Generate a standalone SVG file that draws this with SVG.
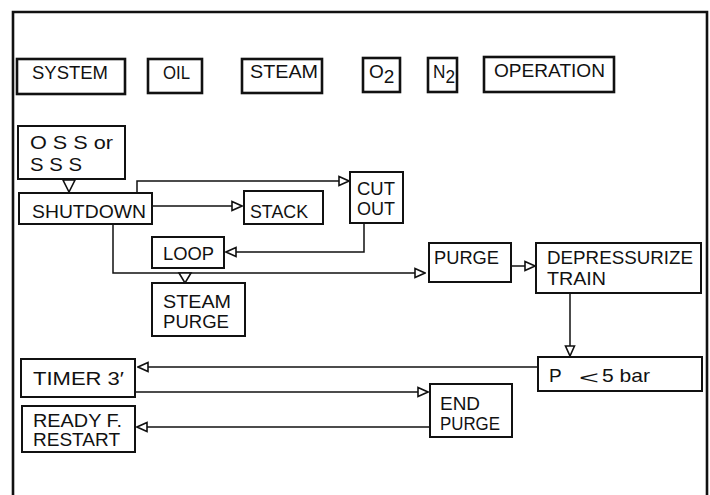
<svg xmlns="http://www.w3.org/2000/svg" width="710" height="495" viewBox="0 0 710 495">
<style>
.box{fill:#fff;stroke:#111;stroke-width:2}
.hbox{fill:#fff;stroke:#111;stroke-width:2.6}
.t{font-family:"Liberation Sans",Arial,sans-serif;font-size:19px;fill:#111}
.c{fill:none;stroke:#111;stroke-width:1.5}
.tri{fill:#fff;stroke:#111;stroke-width:1.6;stroke-linejoin:miter}
</style>
<defs>
<marker id="ah" viewBox="0 0 12 12" refX="11" refY="6" markerWidth="12" markerHeight="12" markerUnits="userSpaceOnUse" orient="auto">
<path d="M1,1.5 L11,6 L1,10.5 Z" fill="#fff" stroke="#111" stroke-width="1.6"/>
</marker>
</defs>
<rect width="710" height="495" fill="#fff"/>
<path d="M13,495 V12 H707 V495" fill="none" stroke="#111" stroke-width="2.6"/>

<g id="hdr-system"><rect class="hbox" x="17" y="59" width="108" height="35"/><text class="t" x="32" y="79" textLength="76" lengthAdjust="spacingAndGlyphs">SYSTEM</text></g>
<g id="hdr-oil"><rect class="hbox" x="148" y="59" width="54" height="34"/><text class="t" x="163" y="79" textLength="27" lengthAdjust="spacingAndGlyphs">OIL</text></g>
<g id="hdr-steam"><rect class="hbox" x="242" y="59" width="80" height="34"/><text class="t" x="250" y="78" textLength="68" lengthAdjust="spacingAndGlyphs">STEAM</text></g>
<g id="hdr-o2"><rect class="hbox" x="363" y="58" width="37" height="34"/><text class="t" x="369" y="78">O<tspan dy="5">2</tspan></text></g>
<g id="hdr-n2"><rect class="hbox" x="428" y="58" width="29" height="34"/><text class="t" x="433" y="78" textLength="22" lengthAdjust="spacingAndGlyphs">N<tspan dy="5">2</tspan></text></g>
<g id="hdr-operation"><rect class="hbox" x="484" y="57" width="130" height="35"/><text class="t" x="494" y="77" textLength="111" lengthAdjust="spacingAndGlyphs">OPERATION</text></g>

<g id="connectors">
<polygon class="tri" points="63,180 75,180 69,192"/>
<path class="c" d="M137,193 V181 H349" marker-end="url(#ah)"/>
<path class="c" d="M152,206 H242" marker-end="url(#ah)"/>
<path class="c" d="M364,223 V252 H226" marker-end="url(#ah)"/>
<path class="c" d="M113,224 V273 H425" marker-end="url(#ah)"/>
<polygon class="tri" points="179,273 191,273 185,283"/>
<path class="c" d="M511,266 H535" marker-end="url(#ah)"/>
<path class="c" d="M570,293 V356" marker-end="url(#ah)"/>
<path class="c" d="M538,367 H138" marker-end="url(#ah)"/>
<path class="c" d="M135,392 H428" marker-end="url(#ah)"/>
<path class="c" d="M430,427 H137" marker-end="url(#ah)"/>
</g>

<g id="oss"><rect class="box" x="18" y="126" width="107" height="53"/><text class="t" x="30" y="149" font-size="20" textLength="83" lengthAdjust="spacingAndGlyphs">O S S or</text><text class="t" x="30" y="171" font-size="20" textLength="52" lengthAdjust="spacingAndGlyphs">S S S</text></g>
<g id="shutdown"><rect class="box" x="19" y="193" width="133" height="31"/><text class="t" x="32" y="218" font-size="20" textLength="114" lengthAdjust="spacingAndGlyphs">SHUTDOWN</text></g>
<g id="stack"><rect class="box" x="244" y="191" width="79" height="33"/><text class="t" x="250" y="218" font-size="20" textLength="58" lengthAdjust="spacingAndGlyphs">STACK</text></g>
<g id="cutout"><rect class="box" x="350" y="172" width="53" height="51"/><text class="t" x="357" y="195" textLength="38" lengthAdjust="spacingAndGlyphs">CUT</text><text class="t" x="357" y="215" textLength="38" lengthAdjust="spacingAndGlyphs">OUT</text></g>
<g id="loop"><rect class="box" x="152" y="237" width="72" height="31"/><text class="t" x="163" y="260" textLength="51" lengthAdjust="spacingAndGlyphs">LOOP</text></g>
<g id="steampurge"><rect class="box" x="152" y="283" width="93" height="53"/><text class="t" x="163" y="308" textLength="68" lengthAdjust="spacingAndGlyphs">STEAM</text><text class="t" x="163" y="328" textLength="66" lengthAdjust="spacingAndGlyphs">PURGE</text></g>
<g id="purge"><rect class="box" x="429" y="243" width="82" height="39"/><text class="t" x="434" y="264" textLength="65" lengthAdjust="spacingAndGlyphs">PURGE</text></g>
<g id="depressurize"><rect class="box" x="536" y="243" width="165" height="50"/><text class="t" x="547" y="264" textLength="146" lengthAdjust="spacingAndGlyphs">DEPRESSURIZE</text><text class="t" x="547" y="285" textLength="59" lengthAdjust="spacingAndGlyphs">TRAIN</text></g>
<g id="pbar"><rect class="box" x="538" y="357" width="164" height="34"/><text class="t" x="549" y="382" font-size="20">P</text><text class="t" x="579" y="384" font-size="30" textLength="20" lengthAdjust="spacingAndGlyphs">&lt;</text><text class="t" x="602" y="382" font-size="20" textLength="48" lengthAdjust="spacingAndGlyphs">5 bar</text></g>
<g id="timer"><rect class="box" x="21" y="359" width="114" height="38"/><text class="t" x="33" y="385" font-size="20" textLength="91" lengthAdjust="spacingAndGlyphs">TIMER  3′</text></g>
<g id="endpurge"><rect class="box" x="430" y="384" width="82" height="53"/><text class="t" x="440" y="410" textLength="40" lengthAdjust="spacingAndGlyphs">END</text><text class="t" x="440" y="430" textLength="60" lengthAdjust="spacingAndGlyphs">PURGE</text></g>
<g id="ready"><rect class="box" x="22" y="406" width="113" height="46"/><text class="t" x="33" y="427" textLength="89" lengthAdjust="spacingAndGlyphs">READY  F.</text><text class="t" x="33" y="446" textLength="87" lengthAdjust="spacingAndGlyphs">RESTART</text></g>
</svg>
